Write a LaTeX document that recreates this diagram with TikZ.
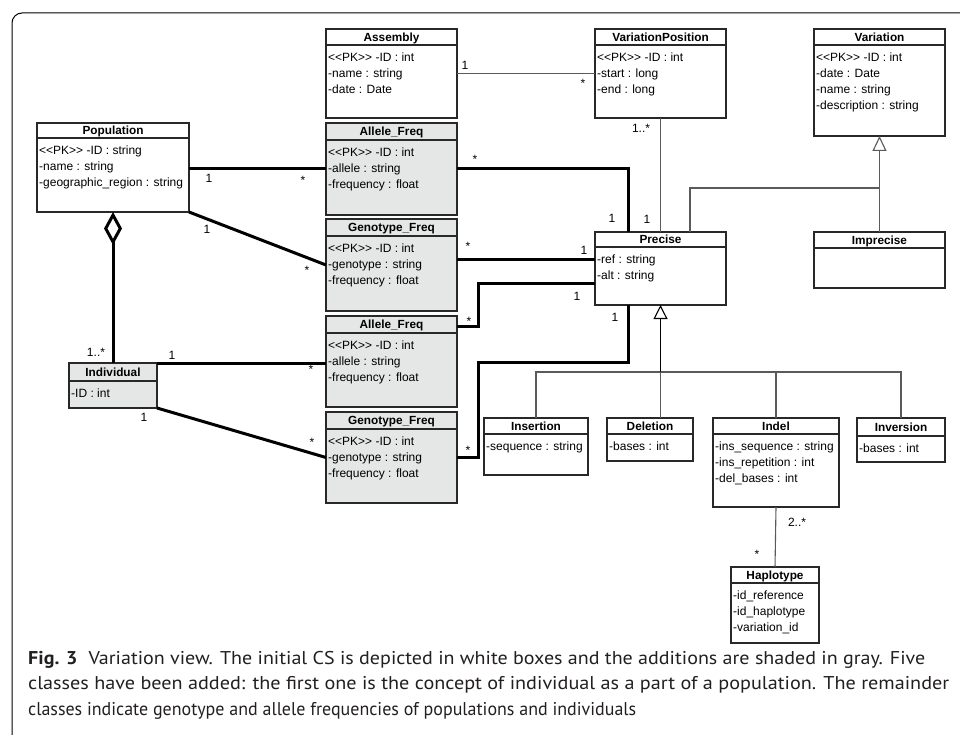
\documentclass[tikz,border=0pt]{standalone}
\usepackage{fontspec}
\setmainfont{Liberation Sans}
\newfontfamily\capfont{PT Sans}
\usetikzlibrary{arrows.meta,calc}

\definecolor{boxgray}{RGB}{40,40,40}
\definecolor{linegray}{RGB}{90,90,90}
\definecolor{shade}{RGB}{229,230,230}
\definecolor{captext}{RGB}{35,31,32}

% primary-key marker, kept apart so the angle brackets are not joined
\newcommand\pkmark{<{}<PK>{}>}

\tikzset{
  box/.style={draw=boxgray, line width=1.1pt, inner sep=0pt, outer sep=0pt},
  sepline/.style={draw=boxgray, line width=1.1pt},
  titletext/.style={font=\fontsize{11.8}{14}\selectfont\bfseries, inner sep=0pt, anchor=base},
  attrtext/.style={font=\fontsize{12}{14}\selectfont, inner sep=0pt, anchor=base west},
  mult/.style={font=\fontsize{12}{14}\selectfont, inner sep=0pt},
  starlbl/.style={mult, yshift=-2.5pt},
  assoc/.style={draw=linegray, line width=1.1pt},
  strong/.style={draw=black, line width=3pt},
  inherit/.style={draw=linegray, line width=1.1pt},
  capline/.style={font=\capfont\fontsize{18.5}{21}\selectfont, text=captext, inner sep=0pt, anchor=base west},
}

% class box: name, x, y, width, height, title height, fill, title
\newcommand\umlclass[8]{%
  \node[box, fill=#7, minimum width=#4pt, minimum height=#5pt, anchor=north west] (#1) at (#2,#3) {};
  \draw[sepline] ([yshift=-#6pt]#1.north west) -- ([yshift=-#6pt]#1.north east);
  \node[titletext] (#1-title) at ([yshift=-#6pt/2-4.2pt]#1.north) {#8};
}
% attribute lines: name, title height, list
\newcommand\umlattrs[3]{%
  \foreach \att [count=\k from 0] in {#3} {
    \node[attrtext] (#1-attr\k) at ([xshift=2pt, yshift=-#2pt-16.5pt-\k*16pt]#1.north west) {\att};
  }
}

\begin{document}
\begin{tikzpicture}[x=1pt, y=-1pt]
\useasboundingbox (0,0) rectangle (960,735);

% outer frame
\draw[black, line width=1pt, rounded corners=10pt] (12,736) -- (12,13) -- (961,13);

% ---------- classes ----------
\umlclass{pop}{37}{123}{152}{89}{15}{white}{Population}
\umlattrs{pop}{15}{\pkmark{} -ID : string, -name : string, -geographic\_region : string}

\umlclass{asm}{326}{29}{131}{89}{16}{white}{Assembly}
\umlattrs{asm}{16}{\pkmark{} -ID : int, -name : string, -date : Date}

\umlclass{af1}{326}{123}{131}{92}{17}{shade}{Allele\_Freq}
\umlattrs{af1}{17}{\pkmark{} -ID : int, -allele : string, -frequency : float}

\umlclass{gf1}{326}{219}{131}{92}{17}{shade}{Genotype\_Freq}
\umlattrs{gf1}{17}{\pkmark{} -ID : int, -genotype : string, -frequency : float}

\umlclass{af2}{326}{316}{131}{91}{17}{shade}{Allele\_Freq}
\umlattrs{af2}{17}{\pkmark{} -ID : int, -allele : string, -frequency : float}

\umlclass{gf2}{326}{412}{131}{91}{17}{shade}{Genotype\_Freq}
\umlattrs{gf2}{17}{\pkmark{} -ID : int, -genotype : string, -frequency : float}

\umlclass{vp}{595}{29}{131}{89}{16}{white}{VariationPosition}
\umlattrs{vp}{16}{\pkmark{} -ID : int, -start : long, -end : long}

\umlclass{var}{814}{29}{131}{107}{16}{white}{Variation}
\umlattrs{var}{16}{\pkmark{} -ID : int, -date : Date, -name : string, -description : string}

\umlclass{imp}{814}{232}{131}{56}{16}{white}{Imprecise}

\umlclass{pre}{595}{232}{131}{73}{15}{white}{Precise}
\umlattrs{pre}{15}{-ref : string, -alt : string}

\umlclass{ind}{69}{363}{88}{45}{18}{shade}{Individual}
\umlattrs{ind}{18}{-ID : int}

\umlclass{ins}{484}{418}{104}{57}{16}{white}{Insertion}
\umlattrs{ins}{16}{-sequence : string}

\umlclass{del}{607}{418}{86}{43}{16}{white}{Deletion}
\umlattrs{del}{16}{-bases : int}

\umlclass{indel}{713}{418}{126}{89}{16}{white}{Indel}
\umlattrs{indel}{16}{-ins\_sequence : string, -ins\_repetition : int, -del\_bases : int}

\umlclass{inv}{857}{418}{88}{44}{18}{white}{Inversion}
\umlattrs{inv}{18}{-bases : int}

\umlclass{hap}{731}{567}{88}{76}{16}{white}{Haplotype}
\umlattrs{hap}{16}{-id\_reference, -id\_haplotype, -variation\_id}

% ---------- associations of the original schema ----------
\draw[assoc] (asm.east) -- (vp.west);
\node[mult] (m-asm) at (465,65) {1};
\node[starlbl] (m-vp) at (583,81) {*};

\draw[assoc] (vp.south) -- (pre.north);
\node[mult] (m-vp2) at (641,128) {1..*};
\node[mult] (m-pre0) at (647,219) {1};

\draw[assoc] (indel.south) -- (hap.north);
\node[mult] (m-indel) at (797,522) {2..*};
\node[starlbl] (m-hap) at (757,552) {*};

% ---------- generalisations ----------
\coordinate (vj) at (var.south |- 0,188);
\draw[inherit] ([xshift=29.5pt]pre.north) |- (vj);
\draw[inherit, -{Triangle[open, length=15pt, width=14pt, fill=white]}] (imp.north) -- (var.south);

\coordinate (gj) at ([yshift=-67pt]pre.south);
\draw[inherit] (ins.north) |- (gj) -| (inv.north);
\draw[inherit] (gj) -- (gj |- del.north);
\draw[inherit] (gj -| indel.north) -- (indel.north);
\draw[black, line width=1.8pt, -{Triangle[open, length=14pt, width=14pt, fill=white, line width=1.1pt]}] (gj) -- (pre.south);

% ---------- added associations ----------
\draw[strong, -{Diamond[open, length=33pt, width=18pt, fill=white]}] (ind.north) -- (pop.south);
\node[mult] (m-ind0) at (96,352) {1..*};

\draw[strong] (pop.east |- af1.west) -- (af1.west);
\node[mult] (m-pop1) at (209,178) {1};
\node[starlbl] (m-af1) at (303,178) {*};

\draw[strong] (af1.east) -| ([xshift=-32.5pt]pre.north);
\node[starlbl] (m-af1b) at (475,157) {*};
\node[mult] (m-pre1) at (612,218) {1};

\draw[strong] (pop.south east) -- (gf1.west);
\node[mult] (m-pop2) at (207,229) {1};
\node[starlbl] (m-gf1) at (307,268) {*};

\draw[strong] ([yshift=6pt]gf1.east) coordinate (g1e) -- (g1e -| pre.west);
\node[starlbl] (m-gf1b) at (468,244) {*};
\node[mult] (m-pre2) at (584,250) {1};

\draw[strong] (ind.north east) -- (ind.north east -| af2.west);
\node[mult] (m-ind1) at (172,355) {1};
\node[starlbl] (m-af2) at (311,367) {*};

\draw[strong] ([yshift=35.5pt]af2.east) coordinate (a2e) -- ++(21,0) |- ([yshift=-14.5pt]pre.west);
\node[starlbl] (m-af2b) at (469,319) {*};
\node[mult] (m-pre3) at (577,296) {1};

\draw[strong] (ind.south east) -- (gf2.west);
\node[mult] (m-ind2) at (144,417) {1};
\node[starlbl] (m-gf2) at (312,440) {*};

\coordinate (pb) at ([xshift=-32.5pt]pre.south);
\draw[strong] (gf2.east) -- ++(21,0) |- ([yshift=-57pt]pb) -- (pb);
\node[starlbl] (m-gf2b) at (468,448) {*};
\node[mult] (m-pre4) at (615,317) {1};

% ---------- caption ----------
\node[capline] (cap1) at (28,664) {\resizebox{897pt}{\height}{\textbf{Fig. 3}\hspace{0.55em}Variation view. The initial CS is depicted in white boxes and the additions are shaded in gray. Five}};
\node[capline] (cap2) at (28,689.5) {\resizebox{921pt}{\height}{classes have been added: the first one is the concept of individual as a part of a population. The remainder}};
\node[capline] (cap3) at (28,715) {\resizebox{608pt}{\height}{classes indicate genotype and allele frequencies of populations and individuals}};
\end{tikzpicture}
\end{document}
